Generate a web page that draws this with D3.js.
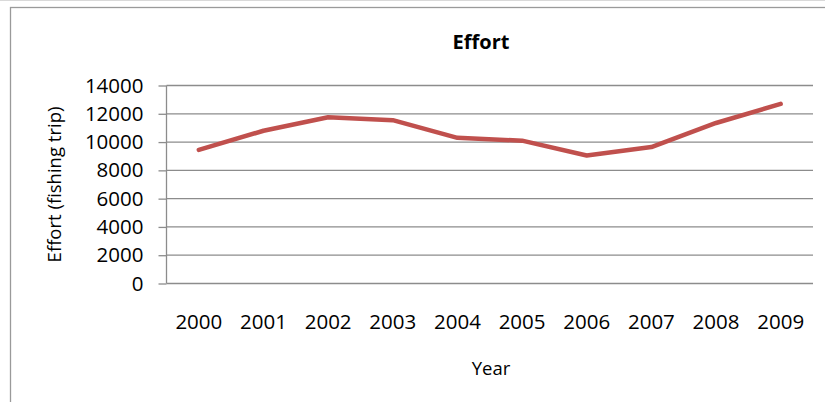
<!DOCTYPE html>
<html>
<head>
<meta charset="utf-8">
<script src="https://cdn.jsdelivr.net/npm/d3@7"></script>
<style>
  body { margin: 0; background: #fff; }
  text { font-family: "Open Sans", "Noto Sans", sans-serif; fill: #000; }
</style>
</head>
<body>
<div id="chart"></div>
<script>
const years = ["2000", "2001", "2002", "2003", "2004", "2005", "2006", "2007", "2008", "2009"];
const effort = [9450, 10800, 11750, 11550, 10300, 10100, 9050, 9650, 11350, 12700];
const yTicks = [0, 2000, 4000, 6000, 8000, 10000, 12000, 14000];

const width = 825, height = 402;
const plot = { left: 166.5, right: 813, top: 85.5, bottom: 283.5 };

const svg = d3.select("#chart").append("svg")
  .attr("width", width)
  .attr("height", height);

// outer frame (right and bottom edges fall outside the picture)
svg.append("line")
  .attr("x1", 0).attr("x2", width).attr("y1", 0.5).attr("y2", 0.5)
  .attr("stroke", "#d9d9d9");
svg.append("rect")
  .attr("x", 10.5).attr("y", 7.5)
  .attr("width", 850).attr("height", 420)
  .attr("fill", "none")
  .attr("stroke", "#9a9a9a")
  .attr("stroke-width", 1.3);

const x = d3.scaleBand().domain(years).range([plot.left, plot.right]);
const y = d3.scaleLinear().domain([0, 14000]).range([plot.bottom, plot.top]);

// gridlines
svg.append("g")
  .selectAll("line")
  .data(yTicks.filter(d => d > 0))
  .enter().append("line")
  .attr("x1", plot.left).attr("x2", plot.right)
  .attr("y1", d => y(d)).attr("y2", d => y(d))
  .attr("stroke", "#8c8c8c")
  .attr("stroke-width", 1.3);

// y axis
const yAxis = svg.append("g")
  .attr("transform", "translate(" + plot.left + ",0)")
  .call(d3.axisLeft(y).tickValues(yTicks).tickSize(8).tickPadding(15).tickFormat(d3.format("d")));
yAxis.selectAll("line, path").attr("stroke", "#8c8c8c").attr("stroke-width", 1.3);
yAxis.select(".domain").attr("d", "M0," + plot.top + "V" + plot.bottom);
yAxis.selectAll("text")
  .style("font-family", "'Open Sans', sans-serif")
  .style("font-size", "20.5px")
  .attr("fill", "#000");

// x axis
const xAxis = svg.append("g")
  .attr("transform", "translate(0," + plot.bottom + ")")
  .call(d3.axisBottom(x).tickSize(0).tickPadding(31));
xAxis.select(".domain").attr("d", "M" + plot.left + ",0H" + plot.right)
  .attr("stroke", "#8c8c8c").attr("stroke-width", 1.5);
xAxis.selectAll("text")
  .style("font-family", "'Open Sans', sans-serif")
  .style("font-size", "20.5px")
  .attr("fill", "#000");

// line
const line = d3.line()
  .x((d, i) => x(years[i]) + x.bandwidth() / 2)
  .y(d => y(d));

svg.append("path")
  .datum(effort)
  .attr("d", line)
  .attr("fill", "none")
  .attr("stroke", "#c0504d")
  .attr("stroke-width", 4.5)
  .attr("stroke-linejoin", "round")
  .attr("stroke-linecap", "round");

// titles
svg.append("text")
  .attr("x", 481).attr("y", 49)
  .attr("text-anchor", "middle")
  .style("font-size", "20px")
  .style("font-weight", "bold")
  .text("Effort");

svg.append("text")
  .attr("x", 491).attr("y", 375)
  .attr("text-anchor", "middle")
  .style("font-size", "18.5px")
  .text("Year");

svg.append("text")
  .attr("transform", "translate(61," + ((plot.top + plot.bottom) / 2) + ") rotate(-90)")
  .attr("text-anchor", "middle")
  .style("font-size", "18.5px")
  .text("Effort (fishing trip)");
</script>
</body>
</html>
